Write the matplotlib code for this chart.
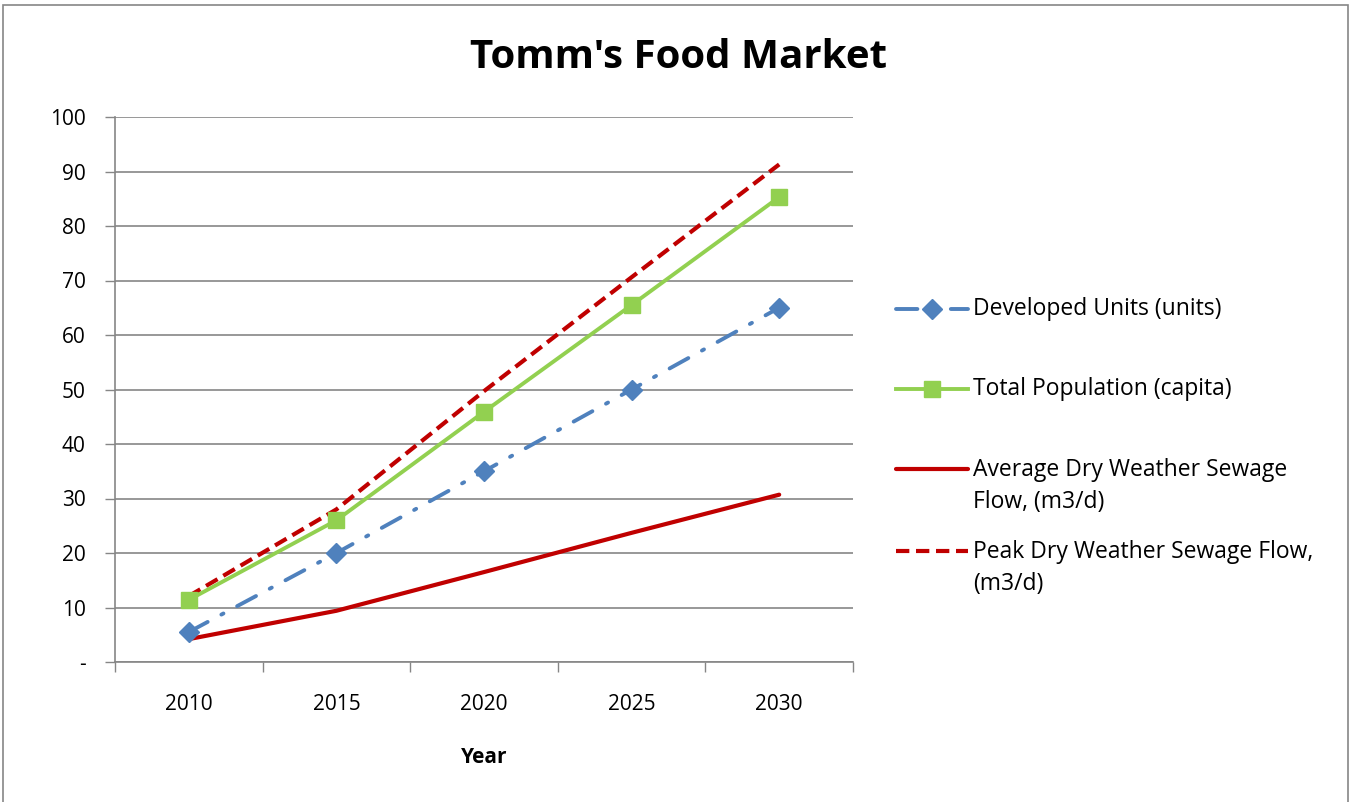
import matplotlib
matplotlib.use("Agg")
import matplotlib.pyplot as plt
from matplotlib.lines import Line2D
from matplotlib.patches import Rectangle

plt.rcParams['font.family'] = ['Open Sans', 'DejaVu Sans']

years = ["2010", "2015", "2020", "2025", "2030"]
developed_units = [5.5, 20, 35, 50, 65]
total_population = [11.4, 26, 45.9, 65.5, 85.3]
avg_dry_flow = [4.2, 9.4, 16.5, 23.7, 30.7]
peak_dry_flow = [12.1, 28.0, 49.7, 70.6, 91.3]
y_ticks = [0, 10, 20, 30, 40, 50, 60, 70, 80, 90, 100]
y_tick_labels = ["-", "10", "20", "30", "40", "50", "60", "70", "80", "90", "100"]
labels = ["Developed Units (units)", "Total Population (capita)",
          "Average Dry Weather Sewage\nFlow, (m3/d)",
          "Peak Dry Weather Sewage Flow,\n(m3/d)"]

W, H = 1354, 802
fig = plt.figure(figsize=(W / 100, H / 100), dpi=100)
ax = fig.add_axes([115 / W, 1 - 662 / H, (853 - 115) / W, (662 - 117) / H])

blue = "#4F81BD"
green = "#92D050"
red = "#C00000"
x = list(range(len(years)))

ax.plot(x, peak_dry_flow, color=red, lw=3.0, dashes=(3.2, 1.6), zorder=3)
ax.plot(x, avg_dry_flow, color=red, lw=3.0, solid_capstyle='round', zorder=3)
ax.plot(x, developed_units, color=blue, lw=2.8, dashes=(5.5, 4, 0.6, 4),
        dash_capstyle='round', marker='D', ms=10.5, mfc=blue, mec=blue, zorder=4)
ax.plot(x, total_population, color=green, lw=2.8, marker='s', ms=11.5,
        mfc=green, mec=green, zorder=5)

ax.set_xlim(-0.5, len(years) - 0.5)
ax.set_ylim(0, 100)
ax.set_yticks(y_ticks)
ax.set_yticklabels(y_tick_labels, fontsize=15)
ax.set_xticks(x)
ax.set_xticklabels(years, fontsize=15)
ax.tick_params(axis='x', length=0, pad=23)
ax.set_xticks([i - 0.5 for i in range(len(years) + 1)], minor=True)
ax.tick_params(axis='x', which='minor', length=7, width=1, color="#868686", direction='out')
ax.tick_params(axis='y', length=7, width=1, color="#868686", direction='out', pad=14)
ax.grid(axis='y', color="#868686", lw=1.2)
ax.set_axisbelow(True)
for s in ['top', 'right']:
    ax.spines[s].set_visible(False)
for s in ['left', 'bottom']:
    ax.spines[s].set_color("#868686")
    ax.spines[s].set_linewidth(1.2)

ax.set_xlabel("Year", fontsize=15, fontweight='bold', labelpad=23)
fig.text(679 / W, 1 - 57 / H, "Tomm's Food Market", ha='center', va='center',
         fontsize=29, fontweight='bold')

# legend (figure pixel coords)
def fx(px):
    return px / W

def fy(py):
    return 1 - py / H

leg_y = [309, 389, 469, 551]
text_y = [309, 389, 486, 568]
x0, x1 = 896, 968
fig.add_artist(Line2D([fx(x0), fx(x1)], [fy(leg_y[0])] * 2, color=blue, lw=2.8,
                      dashes=(5.5, 4, 0.6, 4), dash_capstyle='round'))
fig.add_artist(Line2D([fx(932)], [fy(leg_y[0])], color=blue, marker='D', ms=10.5, lw=0))
fig.add_artist(Line2D([fx(x0), fx(x1)], [fy(leg_y[1])] * 2, color=green, lw=2.8))
fig.add_artist(Line2D([fx(932)], [fy(leg_y[1])], color=green, marker='s', ms=11.5, lw=0))
fig.add_artist(Line2D([fx(x0), fx(x1)], [fy(leg_y[2])] * 2, color=red, lw=3.0,
                      solid_capstyle='round'))
fig.add_artist(Line2D([fx(x0), fx(x1)], [fy(leg_y[3])] * 2, color=red, lw=3.0,
                      dashes=(3.2, 1.6)))
for lab, ty in zip(labels, text_y):
    fig.text(fx(973), fy(ty), lab, ha='left', va='center', fontsize=16.5,
             linespacing=1.5)

fig.add_artist(Rectangle((3 / W, -0.01), (1348 - 3) / W, 1 - 5 / H + 0.01,
                         transform=fig.transFigure, fill=False, ec="#868686", lw=1.2))

fig.savefig("out.png", dpi=100)
